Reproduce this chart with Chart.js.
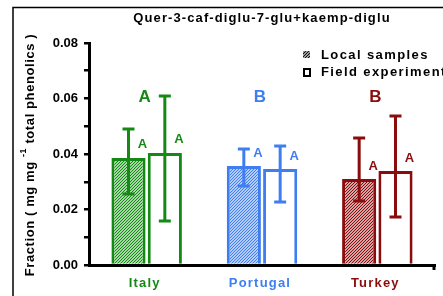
<!DOCTYPE html>
<html><head><meta charset="utf-8">
<script src="https://cdn.jsdelivr.net/npm/chart.js@4"></script>
<style>html,body{margin:0;padding:0;background:#fff;overflow:hidden}</style>
</head><body>
<canvas id="c" width="443" height="296"></canvas>
<script>
// ---- data ----
const chartTitle = 'Quer-3-caf-diglu-7-glu+kaemp-diglu';
const categories = ['Italy', 'Portugal', 'Turkey'];
const seriesNames = ['Local samples', 'Field experiments'];
const localMeans = [0.0386, 0.0357, 0.0310];
const localUpper = [0.0490, 0.0418, 0.0458];
const localLower = [0.0256, 0.0285, 0.0231];
const fieldMeans = [0.0404, 0.0346, 0.0339];
const fieldUpper = [0.0609, 0.0429, 0.0537];
const fieldLower = [0.0159, 0.0227, 0.0173];
const groupLetters = ['A', 'B', 'B'];
const localLetters = ['A', 'A', 'A'];
const fieldLetters = ['A', 'A', 'A'];
const yTitleParts = ['Fraction ( mg mg ', '-1', ' total phenolics )'];
const yMin = 0, yMax = 0.08, yStep = 0.01;

// ---- styles ----
const colors = ['#148a14', '#3f7ef2', '#8a0c0c'];
const tints = ['#a6d8a6', '#b4ccf8', '#d4a4a4'];
const FONT = 'Arial, "Liberation Sans", sans-serif';

const canvas = document.getElementById('c');
const mainCtx = canvas.getContext('2d');
function hatch(color, tint) {
  const c = document.createElement('canvas');
  c.width = 3; c.height = 3;
  const g = c.getContext('2d');
  g.fillStyle = tint; g.fillRect(0, 0, 3, 3);
  g.fillStyle = color;
  for (let i = 0; i < 3; i++) g.fillRect(2 - i, i, 1, 1);
  return mainCtx.createPattern(c, 'repeat');
}
const patterns = colors.map((c, i) => hatch(c, tints[i]));
const legendPattern = hatch('#111', '#999');

const custom = {
  id: 'custom',
  afterDatasetsDraw(chart) {
    const ctx = chart.ctx, ys = chart.scales.y, xs = chart.scales.x;
    const sets = [[localUpper, localLower, localLetters], [fieldUpper, fieldLower, fieldLetters]];
    sets.forEach((s, di) => {
      const meta = chart.getDatasetMeta(di);
      meta.data.forEach((el, i) => {
        const col = colors[i];
        const yt = ys.getPixelForValue(s[0][i]), yb = ys.getPixelForValue(s[1][i]);
        ctx.save();
        ctx.strokeStyle = col; ctx.lineWidth = 3; ctx.lineCap = 'butt';
        ctx.beginPath();
        ctx.moveTo(el.x, yt); ctx.lineTo(el.x, yb);
        ctx.moveTo(el.x - 6, yt); ctx.lineTo(el.x + 6, yt);
        ctx.moveTo(el.x - 6, yb); ctx.lineTo(el.x + 6, yb);
        ctx.stroke();
        ctx.fillStyle = col;
        ctx.font = 'bold 13px ' + FONT;
        ctx.textAlign = 'center'; ctx.textBaseline = 'middle';
        ctx.fillText(s[2][i], el.x + 14, el.y - 13);
        ctx.restore();
      });
    });
    const ca = chart.chartArea;
    ctx.save();
    // group letters and category labels
    categories.forEach((c, i) => {
      const cx = xs.getPixelForValue(i);
      ctx.fillStyle = colors[i];
      ctx.textAlign = 'center'; ctx.textBaseline = 'middle';
      ctx.font = 'bold 17px ' + FONT;
      ctx.letterSpacing = '0px';
      ctx.fillText(groupLetters[i], cx - 2, ys.getPixelForValue(0.0605));
      ctx.font = 'bold 13px ' + FONT;
      ctx.letterSpacing = '1.2px';
      ctx.fillText(c, cx - 2, 283);
    });
    // end tick of x axis
    ctx.strokeStyle = '#000'; ctx.lineWidth = 3;
    ctx.beginPath(); ctx.moveTo(ca.right - 1, ca.bottom); ctx.lineTo(ca.right - 1, ca.bottom + 5); ctx.stroke();
    // frame
    ctx.lineWidth = 1.5;
    ctx.beginPath(); ctx.moveTo(13, 296); ctx.lineTo(13, 7.5); ctx.lineTo(443, 7.5); ctx.stroke();
    // title
    ctx.fillStyle = '#000';
    ctx.font = 'bold 13px ' + FONT;
    ctx.letterSpacing = '1.1px';
    ctx.textAlign = 'center'; ctx.textBaseline = 'middle';
    ctx.fillText(chartTitle, 262, 18);
    // legend
    ctx.fillStyle = legendPattern;
    ctx.fillRect(303, 51, 7, 7);
    ctx.strokeStyle = '#000'; ctx.lineWidth = 2;
    ctx.strokeRect(304, 69, 6, 7);
    ctx.fillStyle = '#000';
    ctx.textAlign = 'left';
    ctx.letterSpacing = '1.4px';
    ctx.fillText(seriesNames[0], 321, 55);
    ctx.fillText(seriesNames[1], 321, 72);
    // y title
    ctx.translate(30, 155);
    ctx.rotate(-Math.PI / 2);
    ctx.letterSpacing = '0.6px';
    const big = 'bold 13px ' + FONT, small = 'bold 9px ' + FONT;
    ctx.font = big; const w0 = ctx.measureText(yTitleParts[0]).width;
    const w2 = ctx.measureText(yTitleParts[2]).width;
    ctx.font = small; const w1 = ctx.measureText(yTitleParts[1]).width;
    let xx = -(w0 + w1 + w2) / 2;
    ctx.font = big; ctx.fillText(yTitleParts[0], xx, 0); xx += w0;
    ctx.font = small; ctx.fillText(yTitleParts[1], xx, -6); xx += w1;
    ctx.font = big; ctx.fillText(yTitleParts[2], xx, 0);
    ctx.restore();
  }
};

new Chart(canvas, {
  type: 'bar',
  data: {
    labels: categories,
    datasets: [
      { label: seriesNames[0], data: localMeans, backgroundColor: patterns, borderColor: colors, borderWidth: 3,
        categoryPercentage: 0.63, barPercentage: 0.94 },
      { label: seriesNames[1], data: fieldMeans, backgroundColor: '#fff', borderColor: colors, borderWidth: 3,
        categoryPercentage: 0.63, barPercentage: 0.94 }
    ]
  },
  options: {
    responsive: false, animation: false, devicePixelRatio: 1,
    layout: { padding: { left: 0, right: 8, top: 43, bottom: 0 } },
    plugins: { legend: { display: false }, tooltip: { enabled: false }, title: { display: false } },
    scales: {
      x: {
        grid: { display: false, drawTicks: false },
        border: { display: true, width: 3, color: '#000' },
        ticks: { display: false },
        afterFit: s => { s.height = 31; }
      },
      y: {
        min: yMin, max: yMax,
        grid: { drawOnChartArea: false, drawTicks: true, tickLength: 5, lineWidth: 2.5, color: '#000' },
        border: { display: true, width: 3, color: '#000' },
        ticks: {
          stepSize: yStep, padding: 6, color: '#000',
          font: { family: FONT, weight: 'bold', size: 13 },
          callback: v => (Math.round(v * 100) % 2 === 0 ? v.toFixed(2) : '')
        },
        afterFit: s => { s.width = 89; }
      }
    }
  },
  plugins: [custom]
});
</script>
</body></html>
